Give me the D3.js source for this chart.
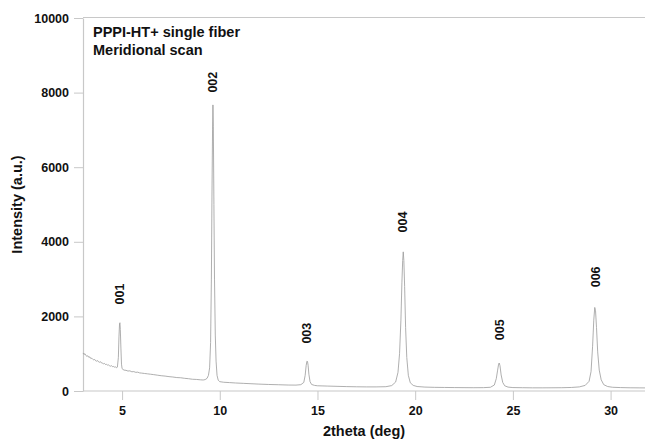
<!DOCTYPE html>
<html lang="en">
<head>
  <meta charset="UTF-8">
  <title>PPPI-HT+ single fiber - Meridional scan</title>
  <script src="https://d3js.org/d3.v7.min.js"></script>
  <style>
    body { margin: 0; background: #fff; font-family: "Liberation Sans", Arial, sans-serif; }
    svg { display: block; font-family: "Liberation Sans", Arial, sans-serif; }
    .tick text { font-size: 12.5px; font-weight: bold; fill: #111; }
    .axis-label { font-size: 14.5px; font-weight: bold; fill: #111; }
    .title { font-size: 14.5px; font-weight: bold; fill: #111; }
    .peak-label { font-size: 12.5px; font-weight: bold; fill: #111; }
  </style>
</head>
<body>
<svg width="645" height="439"></svg>
<script>
  // scan: 2theta (deg) and intensity (a.u.)
  const twoTheta = [
    3.0, 3.05, 3.1, 3.15, 3.2, 3.25, 3.3, 3.35, 3.4, 3.45, 3.5, 3.55, 3.6, 3.65, 3.7, 3.75, 3.8, 3.85, 3.9, 3.95,
    4.0, 4.05, 4.1, 4.15, 4.2, 4.25, 4.3, 4.35, 4.4, 4.45, 4.5, 4.55, 4.6, 4.65, 4.7, 4.76,
    4.81, 4.84, 4.87, 4.89, 4.91, 4.94, 4.97, 5.0, 5.04,
    5.1, 5.2, 5.3, 5.4, 5.5, 5.6, 5.7, 5.8, 5.9, 6.0, 6.15, 6.3, 6.45, 6.6, 6.8, 7.0, 7.2, 7.4, 7.6, 7.8, 8.0,
    8.2, 8.4, 8.6, 8.8, 9.0, 9.15, 9.25, 9.35, 9.42, 9.48, 9.53, 9.57, 9.6, 9.63, 9.65, 9.67, 9.7, 9.73, 9.77,
    9.81, 9.86, 9.92, 10.0, 10.2, 10.5, 10.8, 11.2, 11.6, 12.0, 12.5, 13.0, 13.5, 13.9, 14.15, 14.3, 14.37,
    14.42, 14.46, 14.49, 14.52, 14.56, 14.62, 14.7, 14.85, 15.0, 15.5, 16.0, 16.5, 17.0, 17.5, 18.0, 18.5,
    18.8, 19.0, 19.12, 19.2, 19.27, 19.32, 19.36, 19.39, 19.42, 19.46, 19.51, 19.57, 19.65, 19.75, 19.9, 20.1,
    20.5, 21.0, 21.5, 22.0, 22.5, 23.0, 23.5, 23.85, 24.05, 24.15, 24.22, 24.27, 24.3, 24.34, 24.4, 24.48,
    24.58, 24.75, 25.0, 25.5, 26.0, 26.5, 27.0, 27.5, 28.0, 28.4, 28.7, 28.9, 29.0, 29.08, 29.14, 29.19,
    29.23, 29.28, 29.34, 29.42, 29.52, 29.65, 29.85, 30.1, 30.5, 31.0, 31.5, 32.0
  ];
  const intensity = [
    1020, 980, 1000, 950, 930, 945, 900, 915, 870, 880, 850, 835, 845, 810, 800, 815, 780, 770, 785, 750,
    745, 730, 740, 710, 715, 695, 700, 680, 665, 680, 655, 660, 640, 650, 625, 640,
    900, 1450, 1800, 1830, 1650, 1150, 720, 600, 580,
    560, 555, 535, 540, 515, 520, 500, 505, 485, 480, 470, 460, 450, 440, 425, 410, 400, 385, 375, 360, 355,
    340, 330, 315, 310, 300, 295, 305, 340, 420, 620, 1300, 3000, 5200, 7000, 7670, 7100, 5000, 3000, 1500,
    800, 420, 290, 250, 235, 225, 215, 205, 195, 185, 175, 168, 160, 158, 170, 230, 420,
    680, 800, 790, 690, 450, 250, 175, 150, 140, 132, 125, 118, 113, 110, 110, 115,
    145, 240, 500, 1000, 1900, 2900, 3500, 3730, 3500, 2800, 1700, 900, 420, 220, 150, 120,
    105, 98, 95, 92, 90, 88, 90, 100, 160, 330, 560, 720, 750, 680, 430, 230,
    140, 105, 92, 88, 85, 85, 86, 88, 95, 110, 150, 260, 520, 1200, 1900, 2240,
    2150, 1700, 1050, 560, 300, 170, 120, 100, 92, 86, 84, 82
  ];

  const peakNames = ["001", "002", "003", "004", "005", "006"];
  const peakTheta = [4.87, 9.65, 14.47, 19.38, 24.3, 29.25];
  const peakLabelLevel = [2600, 8280, 1550, 4530, 1640, 3060];

  const xTicks = [5, 10, 15, 20, 25, 30];
  const yTicks = [0, 2000, 4000, 6000, 8000, 10000];

  const margin = { top: 18, right: 0, bottom: 48, left: 83 };
  const width = 645, height = 439;

  const svg = d3.select("svg");

  const x = d3.scaleLinear().domain([3, 32]).range([margin.left, margin.left + 29 * 19.54]);
  const y = d3.scaleLinear().domain([0, 10000]).range([height - margin.bottom, margin.top]);

  const gridColor = "#c8c8c8";

  // frame: top line
  svg.append("line")
    .attr("x1", margin.left).attr("x2", width)
    .attr("y1", y(10000) - 0.5).attr("y2", y(10000) - 0.5)
    .attr("stroke", gridColor).attr("stroke-width", 1.2);

  const xAxis = svg.append("g")
    .attr("transform", `translate(0,${y(0)})`)
    .call(d3.axisBottom(x).tickValues(xTicks).tickSize(9).tickPadding(6).tickSizeOuter(0).tickFormat(d3.format("d")));

  const yAxis = svg.append("g")
    .attr("transform", `translate(${margin.left},0)`)
    .call(d3.axisLeft(y).tickValues(yTicks).tickSize(9).tickPadding(5).tickSizeOuter(0).tickFormat(d3.format("d")));

  [xAxis, yAxis].forEach(g => {
    g.attr("font-family", null).attr("font-size", null);
    g.select(".domain").attr("stroke", gridColor).attr("stroke-width", 1.2);
    g.selectAll(".tick line").attr("stroke", gridColor);
  });
  xAxis.select(".domain").attr("d", `M${margin.left},0H${width}`);

  // the scan
  const pts = twoTheta.map((t, i) => [t, intensity[i]]);
  svg.append("path")
    .datum(pts)
    .attr("fill", "none")
    .attr("stroke", "#9a9a9a")
    .attr("stroke-width", 0.8)
    .attr("d", d3.line().x(d => x(d[0])).y(d => y(d[1])));

  // peak labels
  svg.selectAll(".peak-label")
    .data(peakNames)
    .enter().append("text")
    .attr("class", "peak-label")
    .attr("text-anchor", "middle")
    .attr("dy", "0.35em")
    .attr("transform", (d, i) => `translate(${x(peakTheta[i])},${y(peakLabelLevel[i])}) rotate(-90)`)
    .text(d => d);

  // title
  svg.append("text").attr("class", "title").attr("x", 93).attr("y", 37).text("PPPI-HT+ single fiber");
  svg.append("text").attr("class", "title").attr("x", 93).attr("y", 55).text("Meridional scan");

  // axis titles
  svg.append("text")
    .attr("class", "axis-label")
    .attr("text-anchor", "middle")
    .attr("x", (margin.left + width) / 2)
    .attr("y", 436)
    .text("2theta (deg)");

  svg.append("text")
    .attr("class", "axis-label")
    .attr("text-anchor", "middle")
    .attr("transform", `translate(22,${(y(0) + y(10000)) / 2}) rotate(-90)`)
    .text("Intensity (a.u.)");
</script>
</body>
</html>
